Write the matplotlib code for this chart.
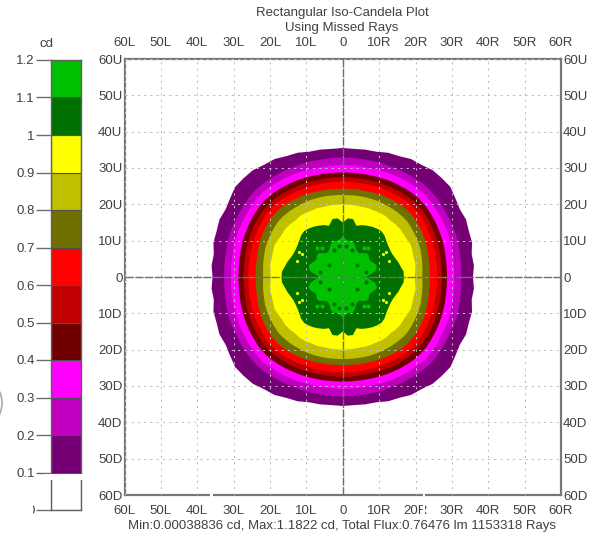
import matplotlib
matplotlib.use("Agg")
import matplotlib.pyplot as plt
from matplotlib.patches import Rectangle, Arc
import numpy as np

plt.rcParams['font.family'] = ['Liberation Sans', 'DejaVu Sans']

W, H = 590, 535
TXT = '#404040'
LINE = '#6e6e6e'
FS = 9.5

# colour bar
band_low = [0.0, 0.1, 0.2, 0.3, 0.4, 0.5, 0.6, 0.7, 0.8, 0.9, 1.0, 1.1]
band_colors = ['#ffffff', '#750075', '#c000c0', '#ff00ff', '#700000', '#c00000',
               '#ff0000', '#707000', '#c0c000', '#ffff00', '#007000', '#00c000']
bar_ticks = [0, 0.1, 0.2, 0.3, 0.4, 0.5, 0.6, 0.7, 0.8, 0.9, 1, 1.1, 1.2]
bar_labels = ['0', '0.1', '0.2', '0.3', '0.4', '0.5', '0.6', '0.7', '0.8', '0.9', '1', '1.1', '1.2']

# axis labels
deg_ticks = [-60, -50, -40, -30, -20, -10, 0, 10, 20, 30, 40, 50, 60]
x_labels = ['60L', '50L', '40L', '30L', '20L', '10L', '0', '10R', '20R', '30R', '40R', '50R', '60R']
y_labels = ['60D', '50D', '40D', '30D', '20D', '10D', '0', '10U', '20U', '30U', '40U', '50U', '60U']

angles = [0, 5, 10, 15, 20, 25, 30, 35, 40, 45, 50, 55, 60, 65, 70, 75, 80, 85, 90]
r_01 = [35.8, 36.2, 36.0, 36.8, 36.9, 37.4, 37.2, 37.8, 38.6, 38.5, 38.4, 37.7, 37.5, 36.7, 36.4, 35.7, 35.6, 35.4, 35.5]
r_02 = [32.6, 32.7, 32.8, 33.0, 33.2, 33.3, 33.4, 33.6, 33.8, 33.9, 33.8, 33.6, 33.4, 33.2, 33.1, 33.0, 32.9, 32.9, 32.9]
r_03 = [30.7, 30.8, 30.9, 31.0, 31.2, 31.4, 31.5, 31.7, 31.9, 32.0, 31.9, 31.7, 31.5, 31.3, 31.1, 30.9, 30.8, 30.8, 30.8]
r_04 = [28.7, 28.7, 28.8, 29.0, 29.2, 29.4, 29.6, 29.8, 30.0, 30.1, 30.0, 29.8, 29.6, 29.4, 29.2, 29.0, 28.9, 28.8, 28.8]
r_05 = [27.3, 27.3, 27.4, 27.6, 27.8, 28.0, 28.2, 28.4, 28.6, 28.6, 28.5, 28.3, 28.1, 27.9, 27.8, 27.6, 27.5, 27.5, 27.5]
r_06 = [26.0, 26.0, 26.1, 26.2, 26.4, 26.6, 26.8, 27.0, 27.2, 27.3, 27.2, 27.0, 26.8, 26.6, 26.5, 26.4, 26.3, 26.3, 26.3]
r_07 = [23.9, 24.0, 24.1, 24.3, 24.6, 24.9, 25.1, 25.3, 25.5, 25.6, 25.5, 25.3, 25.1, 24.9, 24.7, 24.5, 24.4, 24.3, 24.3]
r_08 = [21.9, 22.0, 22.2, 22.4, 22.7, 22.9, 23.0, 23.2, 23.4, 23.4, 23.3, 23.2, 23.1, 23.0, 22.9, 22.8, 22.7, 22.6, 22.6]
r_09 = [19.8, 20.0, 20.3, 20.2, 20.4, 20.7, 20.5, 20.4, 20.6, 20.5, 20.3, 20.5, 20.4, 20.2, 20.2, 20.0, 20.0, 20.0, 20.0]
r_10 = [16.8, 16.8, 16.2, 15.8, 15.3, 15.0, 15.0, 15.2, 15.6, 16.2, 16.5, 16.3, 16.0, 15.6, 15.2, 14.6, 16.2, 16.2, 15.0]
r_11 = [6.5, 7.5, 9.0, 9.7, 9.8, 9.3, 8.8, 8.8, 9.3, 9.3, 8.6, 8.0, 8.0, 8.6, 9.6, 10.2, 10.0, 10.3, 11.2]
radii = [r_01, r_02, r_03, r_04, r_05, r_06, r_07, r_08, r_09, r_10, r_11]
fill_colors = band_colors[1:]

# small spots, one quadrant (deg)
dark_spots_x = [3.9, 2.5, 1.0, 6.3]
dark_spots_y = [3.4, 7.5, 8.5, 1.5]
light_spots_x = [5.8, 7.0]
light_spots_y = [8.0, 8.0]
yellow_spots_x = [11.2, 11.9, 12.6]
yellow_spots_y = [6.4, 6.8, 4.3]


def px_axes(fig, x0, y0, x1, y1):
    return fig.add_axes([x0 / W, 1 - y1 / H, (x1 - x0) / W, (y1 - y0) / H])


def outline(quad):
    a = np.radians(angles)
    r = np.array(quad)
    th = np.concatenate([a, np.pi - a[::-1], np.pi + a, 2 * np.pi - a[::-1]])
    rr = np.concatenate([r, r[::-1], r, r[::-1]])
    return rr * np.cos(th), rr * np.sin(th)


def mirror(xs, ys):
    xs = np.array(xs)
    ys = np.array(ys)
    return np.concatenate([xs, -xs, xs, -xs]), np.concatenate([ys, ys, -ys, -ys])


fig = plt.figure(figsize=(W / 100, H / 100), dpi=100)

# main plot
ax = px_axes(fig, 124.5, 59, 561, 495)
for quad, col in zip(radii, fill_colors):
    xx, yy = outline(quad)
    ax.fill(xx, yy, color=col, lw=0, zorder=2)

sx, sy = mirror(dark_spots_x, dark_spots_y)
ax.scatter(sx, sy, s=9, color='#007000', lw=0, zorder=3)
sx, sy = mirror(light_spots_x, light_spots_y)
ax.scatter(sx, sy, s=9, color='#00c000', lw=0, zorder=3)
sx, sy = mirror(yellow_spots_x, yellow_spots_y)
ax.scatter(sx, sy, s=5, color='#ffff00', lw=0, zorder=3)

ax.set_xlim(-60, 60)
ax.set_ylim(-60, 60)
ax.set_xticks(deg_ticks)
ax.set_xticklabels(x_labels)
ax.set_yticks(deg_ticks)
ax.set_yticklabels(y_labels)
ax.tick_params(axis='x', length=0, pad=7.5, labelsize=FS, labelcolor=TXT, top=True, labeltop=True)
ax.tick_params(axis='y', length=0, pad=1.5, labelsize=FS, labelcolor=TXT, right=True, labelright=True)
ax.grid(True, color='#bdbdbd', lw=0.75, ls=(0, (2, 4)), zorder=4)
ax.set_axisbelow(False)
ax.axhline(0, color=LINE, lw=1, ls=(0, (6, 1)), zorder=5)
ax.axvline(0, color=LINE, lw=1, ls=(0, (6, 1)), zorder=5)
for s in ax.spines.values():
    s.set_color('#777777')
    s.set_linewidth(1.6)

# colour bar
cax = px_axes(fig, 51, 60, 81, 510)
cax.bar(0.5, 0.1, width=1, bottom=band_low, color=band_colors, edgecolor='#505050', linewidth=0.8)
cax.set_xlim(0, 1)
cax.set_ylim(0, 1.2)
cax.set_xticks([])
cax.set_yticks(bar_ticks)
cax.set_yticklabels(bar_labels)
cax.tick_params(axis='y', length=10.8, width=1, color=LINE, pad=1, labelsize=FS, labelcolor=TXT)
for s in cax.spines.values():
    s.set_color('#606060')
    s.set_linewidth(1)

# titles
fig.text(342 / W, 1 - 13 / H, 'Rectangular Iso-Candela Plot', ha='center', va='center', fontsize=FS, color=TXT)
fig.text(342 / W, 1 - 28 / H, 'Using Missed Rays', ha='center', va='center', fontsize=FS, color=TXT)
fig.text(46 / W, 1 - 44 / H, 'cd', ha='center', va='center', fontsize=FS, color=TXT)
fig.text(342 / W, 1 - 526 / H, 'Min:0.00038836 cd, Max:1.1822 cd, Total Flux:0.76476 lm 1153318 Rays',
         ha='center', va='center', fontsize=FS, color=TXT)

# white strips and the grey arc left over in the screenshot
for x0, y0, x1, y1 in [(210, 493, 212.7, 535), (422.7, 493, 425, 535), (45, 474, 85, 480), (24, 502, 32.5, 518)]:
    fig.add_artist(Rectangle((x0 / W, 1 - y1 / H), (x1 - x0) / W, (y1 - y0) / H,
                             transform=fig.transFigure, color='white', lw=0))
fig.add_artist(Arc((-12 / W, 1 - 403 / H), 28 / W, 40 / H, theta1=-70, theta2=70,
                   transform=fig.transFigure, color='#aaaaaa', lw=1.2))

fig.savefig('out.png', dpi=100)
